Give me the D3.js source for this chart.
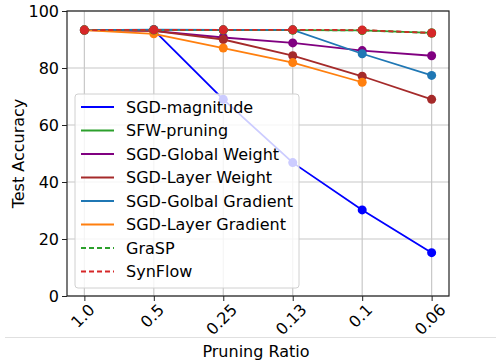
<!DOCTYPE html>
<html>
<head>
<meta charset="utf-8">
<script src="https://cdn.jsdelivr.net/npm/d3@7"></script>
<style>
  body { margin: 0; background: #fff; }
  text { font-family: "DejaVu Sans", sans-serif; fill: #000; }
</style>
</head>
<body>
<div id="chart"></div>
<script>
// pruning ratios on the x axis
var ratios = ["1.0", "0.5", "0.25", "0.13", "0.1", "0.06"];
var yTicks = [0, 20, 40, 60, 80, 100];

// test accuracy for each method
var sgdMagnitude      = [93.3, 93.3, 69.0, 46.8, 30.2, 15.2];
var sfwPruning        = [93.3, 93.4, 93.3, 93.3, 93.2, 92.3];
var sgdGlobalWeight   = [93.3, 93.0, 90.7, 88.8, 86.1, 84.3];
var sgdLayerWeight    = [93.3, 93.0, 90.0, 84.3, 77.1, 69.0];
var sgdGolbalGradient = [93.3, 93.5, 93.4, 93.4, 85.0, 77.4];
var sgdLayerGradient  = [93.3, 92.0, 87.0, 81.9, 75.0];
var grasp             = [93.3, 93.3, 93.3, 93.3, 93.2, 92.3];
var synflow           = [93.3, 93.4, 93.4, 93.4, 93.3, 92.3];

var series = [
  { name: "SGD-magnitude", values: sgdMagnitude, color: "#0000ff", dash: null },
  { name: "SFW-pruning", values: sfwPruning, color: "#2ca02c", dash: null },
  { name: "SGD-Global Weight", values: sgdGlobalWeight, color: "#800080", dash: null },
  { name: "SGD-Layer Weight", values: sgdLayerWeight, color: "#a52a2a", dash: null },
  { name: "SGD-Golbal Gradient", values: sgdGolbalGradient, color: "#1f77b4", dash: null },
  { name: "SGD-Layer Gradient", values: sgdLayerGradient, color: "#ff7f0e", dash: null },
  { name: "GraSP", values: grasp, color: "#2ca02c", dash: "5,3" },
  { name: "SynFlow", values: synflow, color: "#d62728", dash: "5,3" }
];

var width = 496, height = 360;
var margin = { left: 67, right: 47, top: 11, bottom: 64 };
var plotW = width - margin.left - margin.right;
var plotH = height - margin.top - margin.bottom;

var svg = d3.select("#chart")
  .append("svg")
  .attr("width", width)
  .attr("height", height);

var x = d3.scalePoint()
  .domain(ratios)
  .range([margin.left, margin.left + plotW])
  .padding(0.25);

var y = d3.scaleLinear()
  .domain([0, 100])
  .range([margin.top + plotH, margin.top]);

// grid
svg.append("g")
  .selectAll("line.vg")
  .data(ratios)
  .enter()
  .append("line")
  .attr("x1", function(d) { return x(d); })
  .attr("x2", function(d) { return x(d); })
  .attr("y1", margin.top)
  .attr("y2", margin.top + plotH)
  .attr("stroke", "#c8c8c8")
  .attr("stroke-width", 1.2);

svg.append("g")
  .selectAll("line.hg")
  .data(yTicks)
  .enter()
  .append("line")
  .attr("x1", margin.left)
  .attr("x2", margin.left + plotW)
  .attr("y1", function(d) { return y(d); })
  .attr("y2", function(d) { return y(d); })
  .attr("stroke", "#c8c8c8")
  .attr("stroke-width", 1.2);

// lines and markers
var line = d3.line()
  .x(function(d, i) { return x(ratios[i]); })
  .y(function(d) { return y(d); });

series.forEach(function(s) {
  svg.append("path")
    .datum(s.values)
    .attr("d", line)
    .attr("fill", "none")
    .attr("stroke", s.color)
    .attr("stroke-width", 1.8)
    .attr("stroke-dasharray", s.dash);

  svg.append("g")
    .selectAll("circle")
    .data(s.values)
    .enter()
    .append("circle")
    .attr("cx", function(d, i) { return x(ratios[i]); })
    .attr("cy", function(d) { return y(d); })
    .attr("r", 4.5)
    .attr("fill", s.color);
});

// frame
svg.append("rect")
  .attr("x", margin.left)
  .attr("y", margin.top)
  .attr("width", plotW)
  .attr("height", plotH)
  .attr("fill", "none")
  .attr("stroke", "#222")
  .attr("stroke-width", 1.2);

// y axis
var yAxis = svg.append("g")
  .attr("transform", "translate(" + margin.left + ",0)")
  .call(d3.axisLeft(y).tickValues(yTicks).tickSize(5).tickPadding(3));
yAxis.select(".domain").remove();
yAxis.selectAll("line").attr("stroke", "#222");
yAxis.selectAll("text")
  .style("font-size", "16px")
  .style("font-family", "DejaVu Sans, sans-serif");

// x axis
var xAxis = svg.append("g")
  .attr("transform", "translate(0," + (margin.top + plotH) + ")")
  .call(d3.axisBottom(x).tickSize(5).tickFormat(""));
xAxis.select(".domain").remove();
xAxis.selectAll("line").attr("stroke", "#222");

// rotated x tick labels, centered under the tick
var xl = svg.append("g")
  .selectAll("text")
  .data(ratios)
  .enter()
  .append("text")
  .attr("text-anchor", "middle")
  .attr("dominant-baseline", "central")
  .style("font-size", "16px")
  .text(function(d) { return d; });
xl.attr("transform", function(d) {
  var w = this.getComputedTextLength();
  var h = 14;
  var cy = margin.top + plotH + 6 + (w + h) * Math.SQRT1_2 / 2;
  return "translate(" + (x(d) - 1.5) + "," + cy + ") rotate(-45)";
});

// axis titles
svg.append("text")
  .attr("transform", "translate(18," + (margin.top + plotH / 2) + ") rotate(-90)")
  .attr("text-anchor", "middle")
  .attr("dominant-baseline", "central")
  .style("font-size", "16px")
  .text("Test Accuracy");

svg.append("text")
  .attr("x", 256)
  .attr("y", 357)
  .attr("text-anchor", "middle")
  .style("font-size", "16px")
  .text("Pruning Ratio");

// thin separator line near bottom
svg.append("line")
  .attr("x1", 5).attr("x2", width)
  .attr("y1", 337.5).attr("y2", 337.5)
  .attr("stroke", "#e0e0e0")
  .attr("stroke-width", 1);

// legend
var lg = svg.append("g").attr("transform", "translate(75,94)");
lg.append("rect")
  .attr("width", 224)
  .attr("height", 194)
  .attr("rx", 3)
  .attr("fill", "#fff")
  .attr("fill-opacity", 0.8)
  .attr("stroke", "#d0d0d0");

var rows = lg.selectAll("g.row")
  .data(series)
  .enter()
  .append("g")
  .attr("transform", function(d, i) { return "translate(0," + (13 + i * 23.5) + ")"; });

rows.append("line")
  .attr("x1", 6).attr("x2", 39)
  .attr("y1", 0).attr("y2", 0)
  .attr("stroke", function(d) { return d.color; })
  .attr("stroke-width", 1.8)
  .attr("stroke-dasharray", function(d) { return d.dash; });

rows.append("text")
  .attr("x", 51)
  .attr("y", 0)
  .attr("dominant-baseline", "central")
  .style("font-size", "16px")
  .text(function(d) { return d.name; });
</script>
</body>
</html>
